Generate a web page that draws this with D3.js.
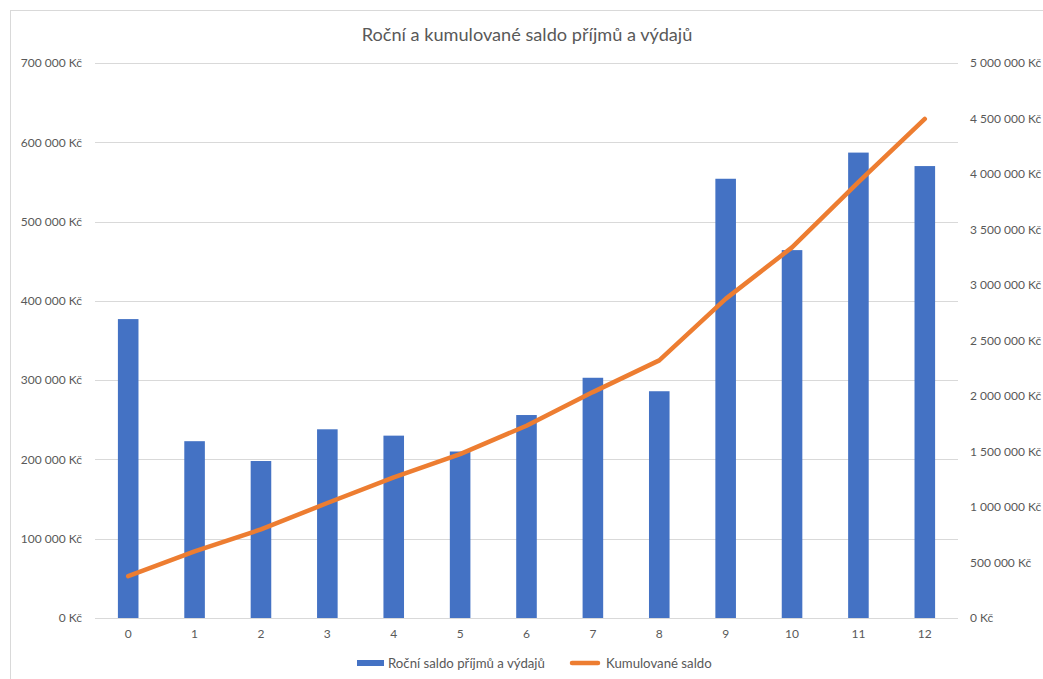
<!DOCTYPE html>
<html>
<head>
<meta charset="utf-8">
<script src="https://cdn.jsdelivr.net/npm/d3@7"></script>
<style>
html,body{margin:0;padding:0;background:#fff;}
svg{display:block;}
text{font-family:Lato,"Open Sans",sans-serif;fill:#595959;}
</style>
</head>
<body>
<svg id="chart" width="1043" height="679"></svg>
<script>
const title = "Roční a kumulované saldo příjmů a výdajů";
const categories = ["0","1","2","3","4","5","6","7","8","9","10","11","12"];
const annualBalance = [377000, 223000, 198000, 238000, 230000, 210000, 256000, 303000, 286000, 554000, 464000, 587000, 570000];
const cumulativeBalance = [377000, 600000, 798000, 1036000, 1266000, 1476000, 1732000, 2035000, 2321000, 2875000, 3339000, 3926000, 4496000];
const leftTicks = [0, 100000, 200000, 300000, 400000, 500000, 600000, 700000];
const rightTicks = [0, 500000, 1000000, 1500000, 2000000, 2500000, 3000000, 3500000, 4000000, 4500000, 5000000];
const seriesNames = ["Roční saldo příjmů a výdajů", "Kumulované saldo"];

const fmt = v => d3.format(",")(v).replace(/,/g, "\u00a0") + " Kč";

const svg = d3.select("#chart");
const m = {left: 95, right: 958, top: 63, bottom: 618};

svg.append("rect").attr("x", 10.5).attr("y", 10.5).attr("width", 1100).attr("height", 700)
  .attr("fill", "#fff").attr("stroke", "#d9d9d9").attr("stroke-width", 1);

const x = d3.scaleBand().domain(categories).range([m.left, m.right]).paddingInner(0.69).paddingOuter(0.345);
const yL = d3.scaleLinear().domain([0, 700000]).range([m.bottom, m.top]);
const yR = d3.scaleLinear().domain([0, 5000000]).range([m.bottom, m.top]);

// gridlines
svg.append("g").selectAll("line").data(leftTicks).join("line")
  .attr("x1", m.left).attr("x2", m.right)
  .attr("y1", d => Math.round(yL(d)) + 0.5).attr("y2", d => Math.round(yL(d)) + 0.5)
  .attr("stroke", "#d9d9d9").attr("stroke-width", 1);

const styleAxis = g => {
  g.select(".domain").remove();
  g.selectAll("text").style("font-size", "12px").attr("fill", "#595959")
    .style("font-family", "Lato,'Open Sans',sans-serif");
};

// left axis
svg.append("g").attr("transform", `translate(${m.left},0)`)
  .call(d3.axisLeft(yL).tickValues(leftTicks).tickFormat(fmt).tickSize(0).tickPadding(13))
  .call(styleAxis);

// right axis
svg.append("g").attr("transform", `translate(${m.right},0)`)
  .call(d3.axisRight(yR).tickValues(rightTicks).tickFormat(fmt).tickSize(0).tickPadding(12))
  .call(styleAxis);

// x axis
svg.append("g").attr("transform", `translate(0,${m.bottom})`)
  .call(d3.axisBottom(x).tickSize(0).tickPadding(11))
  .call(styleAxis);

// bars
svg.append("g").selectAll("rect").data(annualBalance).join("rect")
  .attr("x", (d, i) => x(categories[i]))
  .attr("width", x.bandwidth())
  .attr("y", d => yL(d))
  .attr("height", d => yL(0) - yL(d))
  .attr("fill", "#4472C4");

// line
const line = d3.line().x((d, i) => x(categories[i]) + x.bandwidth() / 2).y(d => yR(d));
svg.append("path").datum(cumulativeBalance).attr("d", line)
  .attr("fill", "none").attr("stroke", "#ED7D31").attr("stroke-width", 4.5)
  .attr("stroke-linejoin", "round").attr("stroke-linecap", "round");

// title
const t = svg.append("text").attr("x", 527).attr("y", 41).attr("text-anchor", "middle")
  .style("font-size", "18px").text(title);
const tw = t.node().getComputedTextLength();
t.style("font-size", (18 * 331 / tw).toFixed(2) + "px");

// legend
const lg = svg.append("g");
lg.append("rect").attr("x", 357).attr("y", 660).attr("width", 27).attr("height", 6).attr("fill", "#4472C4");
const l1 = lg.append("text").attr("x", 388).attr("y", 667.5).style("font-size", "13px").text(seriesNames[0]);
const w1 = l1.node().getComputedTextLength();
l1.style("font-size", (13 * 157 / w1).toFixed(2) + "px");
lg.append("line").attr("x1", 572).attr("x2", 598).attr("y1", 663).attr("y2", 663)
  .attr("stroke", "#ED7D31").attr("stroke-width", 4.5).attr("stroke-linecap", "round");
const l2 = lg.append("text").attr("x", 606).attr("y", 667.5).style("font-size", (13 * 157 / w1).toFixed(2) + "px").text(seriesNames[1]);
</script>
</body>
</html>
